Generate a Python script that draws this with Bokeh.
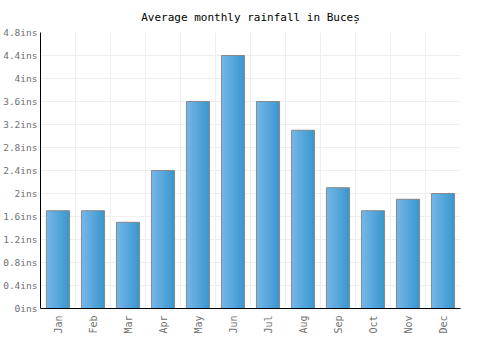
import math
from bokeh.plotting import figure
from bokeh.models import ColumnDataSource, FixedTicker, Grid
from bokeh.transform import dodge
from bokeh.embed import file_html
from bokeh.resources import INLINE

months = ["Jan", "Feb", "Mar", "Apr", "May", "Jun", "Jul", "Aug", "Sep", "Oct", "Nov", "Dec"]
rainfall = [1.7, 1.7, 1.5, 2.4, 3.6, 4.4, 3.6, 3.1, 2.1, 1.7, 1.9, 2.0]
y_ticks = [0, 0.4, 0.8, 1.2, 1.6, 2.0, 2.4, 2.8, 3.2, 3.6, 4.0, 4.4, 4.8]
y_tick_labels = ["0ins", "0.4ins", "0.8ins", "1.2ins", "1.6ins", "2ins", "2.4ins",
                 "2.8ins", "3.2ins", "3.6ins", "4ins", "4.4ins", "4.8ins"]

FONT = "DejaVu Sans Mono"
centers = [i + 0.5 for i in range(len(months))]
src = ColumnDataSource(data=dict(x=centers, top=rainfall, month=months))

p = figure(width=500, height=350, x_range=(0, 12), y_range=(0, 4.8),
           output_backend="svg", toolbar_location=None,
           min_border_left=40, min_border_right=40, min_border_top=32, min_border_bottom=42)
p.outline_line_color = None
p.background_fill_color = "white"

p.title.text = "Average monthly rainfall in Buceș"
p.title.text_font = FONT
p.title.text_font_size = "11px"
p.title.text_font_style = "normal"
p.title.align = "center"
p.title.text_color = "black"
p.title.standoff = 17

# grids
p.xgrid.visible = False
p.ygrid.ticker = FixedTicker(ticks=y_ticks)
p.ygrid.grid_line_color = "#eeeeee"
vgrid = Grid(dimension=0, ticker=FixedTicker(ticks=list(range(13))), grid_line_color="#eeeeee")
p.add_layout(vgrid)

# gradient bars
bar_w = 0.66
n = 12
c0 = (0x74, 0xb5, 0xe8)
c1 = (0x3a, 0x98, 0xcf)
sw = bar_w / n
for k in range(n):
    t = k / (n - 1)
    col = "#%02x%02x%02x" % tuple(int(round(a + (b - a) * t)) for a, b in zip(c0, c1))
    off = -bar_w / 2 + sw * (k + 0.5)
    w = sw * 1.6 if k < n - 1 else sw
    if k < n - 1:
        off += sw * 0.3
    p.vbar(x=dodge("x", off, range=p.x_range), top="top", bottom=0, width=w,
           source=src, fill_color=col, line_color=None)
p.vbar(x="x", top="top", bottom=0, width=bar_w, source=src,
       fill_color=None, line_color="#888888", line_width=1)

# axes
p.yaxis.ticker = FixedTicker(ticks=y_ticks)
p.yaxis.major_label_overrides = {t: l for t, l in zip(y_ticks, y_tick_labels)}
p.yaxis.major_label_text_font = FONT
p.yaxis.major_label_text_font_size = "9.5px"
p.yaxis.major_label_text_color = "#707070"
p.yaxis.major_tick_line_color = None
p.yaxis.minor_tick_line_color = None
p.yaxis.major_tick_out = 0
p.yaxis.major_tick_in = 0
p.yaxis.minor_tick_out = 0
p.yaxis.major_label_standoff = 3
p.yaxis.axis_line_color = "black"

p.xaxis.ticker = FixedTicker(ticks=centers)
p.xaxis.major_label_overrides = {c: m for c, m in zip(centers, months)}
p.xaxis.major_label_orientation = math.pi / 2
p.xaxis.major_label_text_font = FONT
p.xaxis.major_label_text_font_size = "10px"
p.xaxis.major_label_text_color = "#707070"
p.xaxis.major_tick_line_color = None
p.xaxis.minor_tick_line_color = None
p.xaxis.major_tick_out = 0
p.xaxis.major_tick_in = 0
p.xaxis.minor_tick_out = 0
p.xaxis.major_label_standoff = 7
p.xaxis.axis_line_color = "black"

open("out.html", "w").write(file_html(p, INLINE))
